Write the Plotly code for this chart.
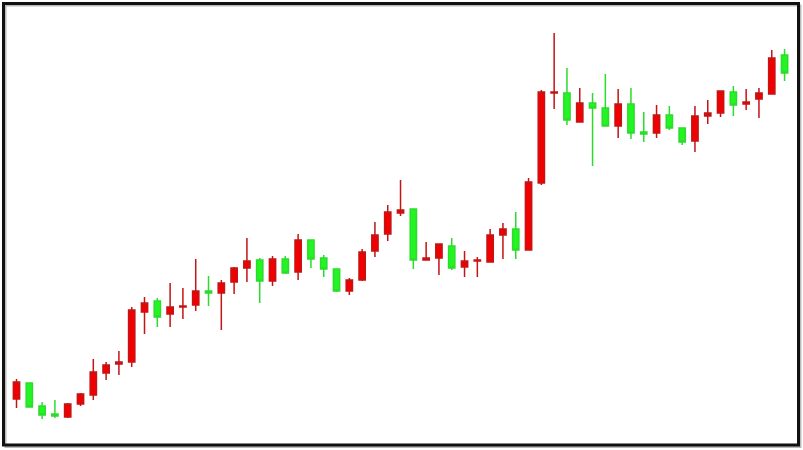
import plotly.graph_objects as go

idx = list(range(61))
opens = [51, 67, 44, 36, 33, 46, 55, 77, 86, 88,
         138, 149, 136, 143, 145, 159, 157, 168, 182, 190,
         169, 191, 178, 210, 192, 181, 159, 170, 199, 216,
         237, 241, 190, 192, 204, 183, 189, 188, 215, 221,
         200, 267, 357, 357, 328, 347, 342, 324, 346, 318,
         317, 335, 322, 309, 334, 337, 358, 346, 351, 356, 395]
highs = [71, 67, 48, 50, 47, 57, 91, 88, 99, 143,
         153, 152, 167, 162, 191, 174, 170, 183, 212, 192,
         194, 194, 216, 210, 195, 181, 172, 201, 228, 245,
         270, 241, 208, 206, 212, 199, 193, 221, 227, 238,
         272, 360, 417, 382, 362, 357, 376, 361, 362, 338,
         345, 344, 322, 344, 350, 359, 364, 361, 362, 400, 401]
lows = [42, 43, 31, 32, 32, 44, 50, 70, 75, 83,
        116, 123, 123, 131, 139, 144, 120, 156, 168, 147,
        164, 176, 170, 182, 173, 158, 155, 169, 193, 209,
        234, 181, 190, 175, 180, 173, 173, 188, 191, 191,
        200, 265, 341, 325, 328, 284, 324, 312, 311, 308,
        312, 320, 305, 298, 326, 333, 334, 340, 332, 356, 369]
closes = [68, 43, 35, 34, 46, 56, 78, 85, 88, 140,
          147, 133, 143, 144, 159, 157, 167, 182, 189, 169,
          191, 177, 210, 191, 181, 159, 170, 198, 215, 238,
          240, 190, 192, 206, 182, 189, 190, 215, 221, 200,
          268, 358, 358, 330, 347, 342, 324, 346, 317, 316,
          335, 322, 308, 334, 337, 359, 345, 348, 357, 392, 377]

fig = go.Figure(go.Candlestick(
    x=idx, open=opens, high=highs, low=lows, close=closes,
    increasing=dict(line=dict(color="#C41414", width=1.5), fillcolor="#F00000"),
    decreasing=dict(line=dict(color="#2CDC2C", width=1.5), fillcolor="#22F522"),
    whiskerwidth=0,
    hoverinfo="none",
))

fig.update_layout(
    width=803, height=450,
    margin=dict(l=0, r=0, t=0, b=0),
    paper_bgcolor="white", plot_bgcolor="white",
    showlegend=False,
    xaxis=dict(range=[-1.289, 61.44], visible=False, rangeslider=dict(visible=False)),
    yaxis=dict(range=[0, 450], visible=False),
    shapes=[
        dict(type="rect", xref="paper", yref="paper",
             x0=5.5 / 803, x1=800.5 / 803, y0=1 - 447 / 450, y1=1 - 5.5 / 450,
             line=dict(color="#BBBBBB", width=2)),
        dict(type="rect", xref="paper", yref="paper",
             x0=3.5 / 803, x1=798.5 / 803, y0=1 - 445 / 450, y1=1 - 3.5 / 450,
             line=dict(color="#111111", width=3)),
    ],
)

fig.write_html(
    "out.html",
    config={"displayModeBar": False, "staticPlot": True},
    post_script="document.body.style.margin='0';document.body.style.overflow='hidden';",
)
